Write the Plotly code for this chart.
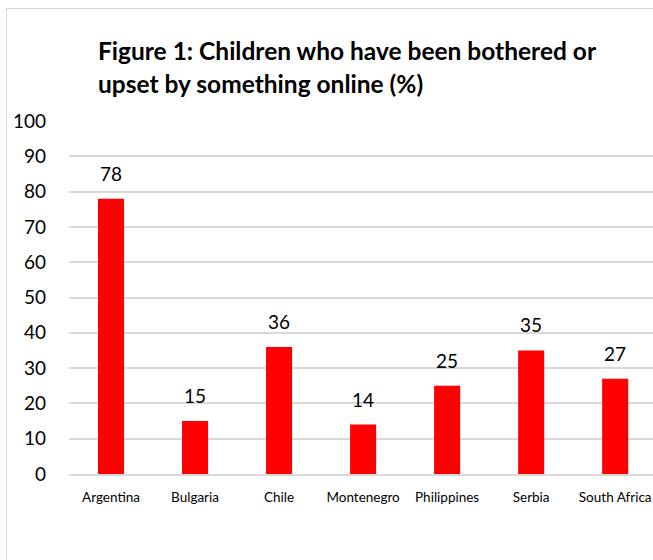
import plotly.graph_objects as go

countries = ["Argentina", "Bulgaria", "Chile", "Montenegro", "Philippines", "Serbia", "South Africa"]
shares = [78, 15, 36, 14, 25, 35, 27]
y_ticks = [0, 10, 20, 30, 40, 50, 60, 70, 80, 90, 100]
title_lines = ["Figure 1: Children who have been bothered or", "upset by something online (%)"]

W, H = 653, 560
L, R, T, B = 69, 0, 121, 86
plot_w = W - L - R
plot_h = H - T - B

FONT = "Lato"
GRID = "#d9d9d9"

fig = go.Figure()
fig.add_trace(go.Bar(
    x=countries,
    y=shares,
    marker=dict(color="#ff0000", line=dict(width=0)),
    hoverinfo="x+y",
))

annotations = []
# value labels above the bars
for c, v in zip(countries, shares):
    annotations.append(dict(
        x=c, y=v, xref="x", yref="y", text=str(v), showarrow=False,
        yanchor="bottom", xanchor="center", yshift=12,
        font=dict(family=FONT, size=19, color="#000000"),
    ))

# two-line bold heading
for i, line in enumerate(title_lines):
    baseline = 62 + 33 * i
    annotations.append(dict(
        x=(96 - L) / plot_w, y=(H - B - baseline) / plot_h,
        xref="paper", yref="paper", text=line, showarrow=False,
        xanchor="left", yanchor="bottom", yshift=-5,
        font=dict(family=FONT, size=24.5, color="#000000", weight="bold"),
    ))

# chart-area frame
shapes = [dict(
    type="rect", xref="paper", yref="paper",
    x0=(6.5 - L) / plot_w, x1=1.05,
    y0=-0.5, y1=(H - B - 8.5) / plot_h,
    line=dict(color=GRID, width=1), fillcolor="rgba(0,0,0,0)", layer="below",
)]

fig.update_layout(
    width=W, height=H,
    margin=dict(l=L, r=R, t=T, b=B, pad=0),
    paper_bgcolor="white", plot_bgcolor="white",
    showlegend=False,
    bargap=0.69,
    annotations=annotations,
    shapes=shapes,
    xaxis=dict(
        range=[-0.5, 6.45],
        showgrid=False, showline=True, linecolor=GRID, linewidth=1.5,
        ticks="", tickfont=dict(family=FONT, size=13.5, color="#000000"),
        ticklabelstandoff=10, fixedrange=True,
    ),
    yaxis=dict(
        range=[0, 100], tickvals=y_ticks,
        showgrid=True, gridcolor=GRID, gridwidth=1.5,
        zeroline=False, showline=False, ticks="",
        tickfont=dict(family=FONT, size=19, color="#000000"),
        ticklabelstandoff=22, fixedrange=True,
    ),
)

fig.write_html("out.html")
